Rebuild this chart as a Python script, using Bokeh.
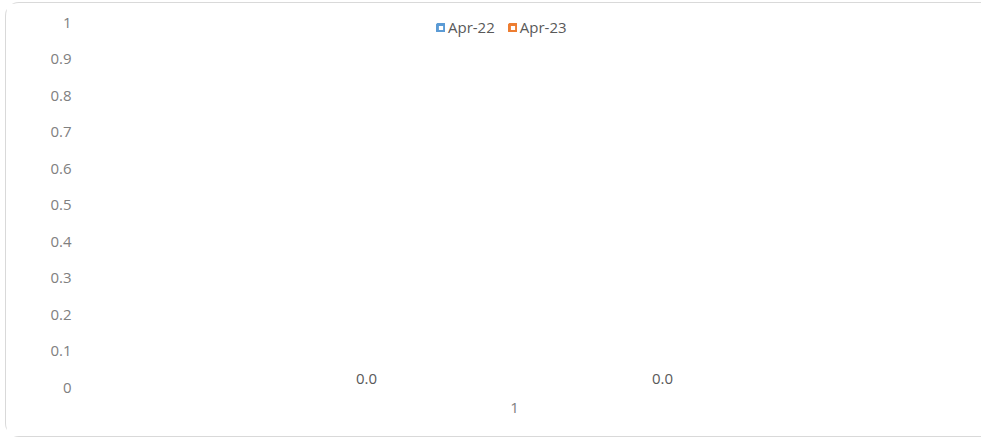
from bokeh.plotting import figure
from bokeh.models import ColumnDataSource, FactorRange, Range1d, FixedTicker, Legend, LegendItem
from bokeh.transform import dodge
from bokeh.core.properties import value
from bokeh.embed import file_html
from bokeh.resources import INLINE

# ---- data ----
categories = ["1"]
series_names = ["Apr-22", "Apr-23"]
apr22 = [0.0]
apr23 = [0.0]
y_ticks = [0, 0.1, 0.2, 0.3, 0.4, 0.5, 0.6, 0.7, 0.8, 0.9, 1]
y_tick_labels = ["0", "0.1", "0.2", "0.3", "0.4", "0.5", "0.6", "0.7", "0.8", "0.9", "1"]
colors = ["#5B9BD5", "#ED7D31"]

FONT = "Open Sans"

src = ColumnDataSource(dict(
    cat=categories,
    apr22=apr22,
    apr23=apr23,
    lab22=[f"{v:.1f}" for v in apr22],
    lab23=[f"{v:.1f}" for v in apr23],
))

# frame extends a few px above the top tick so the legend sits inside it
p = figure(
    x_range=FactorRange(factors=categories, range_padding=0),
    y_range=Range1d(0, 1 + 7 / 365),
    width=976, height=435,
    output_backend="svg", toolbar_location=None,
    min_border_left=84, min_border_right=44, min_border_top=12, min_border_bottom=51,
)
p.styles = {
    "margin-left": "5px",
    "margin-top": "2px",
    "border-top": "1px solid #d9d9d9",
    "border-left": "1px solid #d9d9d9",
    "border-bottom": "1px solid #d9d9d9",
    "border-top-left-radius": "14px",
    "border-bottom-left-radius": "14px",
}

off = 0.1745
bw = 0.343
p.vbar(x=dodge("cat", -off, range=p.x_range), top="apr22", width=bw, source=src,
       fill_color=colors[0], line_color=None)
p.vbar(x=dodge("cat", off, range=p.x_range), top="apr23", width=bw, source=src,
       fill_color=colors[1], line_color=None)

p.text(x=dodge("cat", -off, range=p.x_range), y="apr22", text="lab22", source=src,
       text_align="center", text_baseline="bottom", y_offset=-4,
       text_font=value(FONT), text_font_size="15px", text_color="#595959")
p.text(x=dodge("cat", off, range=p.x_range), y="apr23", text="lab23", source=src,
       text_align="center", text_baseline="bottom", y_offset=-4,
       text_font=value(FONT), text_font_size="15px", text_color="#595959")

# legend proxies (not drawn in the plot area)
leg_src = ColumnDataSource(dict(x=categories, top=[float("nan")]))
r1 = p.vbar(x="x", top="top", width=0.1, source=leg_src,
            fill_color="white", line_color=colors[0], line_width=3)
r2 = p.vbar(x="x", top="top", width=0.1, source=leg_src,
            fill_color="white", line_color=colors[1], line_width=3)
legend = Legend(
    items=[LegendItem(label=series_names[0], renderers=[r1]),
           LegendItem(label=series_names[1], renderers=[r2])],
    orientation="horizontal", location=(346, 350),
    glyph_width=9, glyph_height=9, label_standoff=3, spacing=13,
    padding=0, margin=0, border_line_color=None, background_fill_alpha=0,
    label_text_font=FONT, label_text_font_size="15px", label_text_color="#595959",
    label_height=14,
)
p.add_layout(legend)

# axes
p.xgrid.visible = False
p.ygrid.visible = False
p.outline_line_color = None
for ax in (p.xaxis[0], p.yaxis[0]):
    ax.axis_line_color = None
    ax.major_tick_line_color = None
    ax.minor_tick_line_color = None
    ax.major_tick_out = 0
    ax.major_tick_in = 0
    ax.minor_tick_out = 0
    ax.major_label_text_font = FONT
    ax.major_label_text_font_size = "15px"
    ax.major_label_text_color = "#808080"

p.yaxis.ticker = FixedTicker(ticks=y_ticks)
p.yaxis.major_label_overrides = {t: l for t, l in zip(y_ticks, y_tick_labels)}
p.yaxis.major_label_standoff = 19
p.xaxis.major_label_standoff = 15

open("out.html", "w").write(file_html(p, INLINE))
